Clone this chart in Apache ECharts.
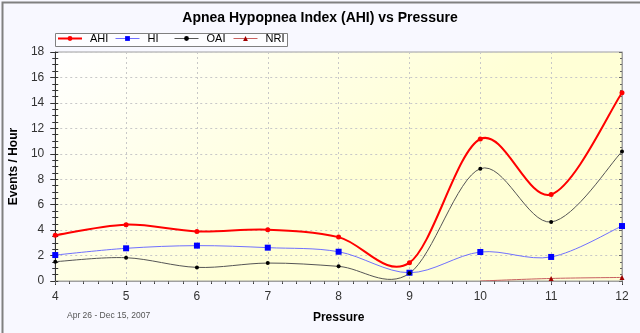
<!DOCTYPE html>
<html>
<head>
<meta charset="utf-8">
<style>
  html, body { margin: 0; padding: 0; background: #f8f8ff; }
  #chart { width: 640px; height: 333px; }
</style>
<script src="https://cdn.jsdelivr.net/npm/echarts@6/dist/echarts.min.js"></script>
</head>
<body>
<div id="chart"></div>
<script>
// Pressure settings (x) and event rates per hour for each index
const pressure = [4, 5, 6, 7, 8, 9, 10, 11, 12];
const ahi = [3.6, 4.43, 3.9, 4.03, 3.45, 1.44, 11.16, 6.8, 14.8];
const hi  = [2.04, 2.57, 2.78, 2.62, 2.3, 0.65, 2.28, 1.89, 4.32];
const oai = [1.52, 1.83, 1.07, 1.41, 1.15, 0.6, 8.83, 4.64, 10.17];
const nri = [null, null, null, null, null, null, 0, 0.2, 0.28];
const yTicks = [0, 2, 4, 6, 8, 10, 12, 14, 16, 18];
const seriesNames = ['AHI', 'HI', 'OAI', 'NRI'];

const pairs = (ys) => pressure.map((x, i) => [x, ys[i]]);
const font = 'Arial, "Liberation Sans", sans-serif';

const chart = echarts.init(document.getElementById('chart'), null, { renderer: 'canvas' });

// Markers for each index (the curve itself is drawn by the spline series below)
const markerSeries = (name, data, symbol, symColor, size, z) => ({
  name, type: 'line', data: pairs(data), z,
  symbol, symbolSize: (v) => (v[1] > 0 ? size : 0),
  showSymbol: true,
  lineStyle: { opacity: 0 },
  itemStyle: { color: symColor, borderWidth: 0 },
  animation: false
});

// Catmull-Rom curve through the points, converted to pixel space by the axes
const splineSeries = (name, ys, color, width, z) => ({
  name, type: 'custom', z, clip: true,
  data: pairs(ys).map((p, i) => [p[0], p[1] == null ? 0 : p[1], i]),
  encode: { x: 0, y: 1 },
  renderItem: (params, api) => {
    const i = params.dataIndex;
    const n = ys.length;
    if (i >= n - 1 || ys[i] == null || ys[i + 1] == null) return null;
    const k0 = (i > 0 && ys[i - 1] != null) ? i - 1 : i;
    const k3 = (i + 2 < n && ys[i + 2] != null) ? i + 2 : i + 1;
    const P = (k) => api.coord([pressure[k], ys[k]]);
    const p0 = P(k0), p1 = P(i), p2 = P(i + 1), p3 = P(k3);
    return {
      type: 'bezierCurve',
      shape: {
        x1: p1[0], y1: p1[1], x2: p2[0], y2: p2[1],
        cpx1: p1[0] + (p2[0] - p0[0]) / 6, cpy1: p1[1] + (p2[1] - p0[1]) / 6,
        cpx2: p2[0] - (p3[0] - p1[0]) / 6, cpy2: p2[1] - (p3[1] - p1[1]) / 6
      },
      style: { stroke: color, lineWidth: width, fill: null }
    };
  },
  animation: false
});

// One legend entry per slot so the entries sit in evenly spaced columns
const legendColors = ['#ff0000', '#7070ff', '#555555', '#c86060'];
const legendWidths = [2, 1, 1, 1];
const legendSlots = [57, 115, 174, 233];
const legends = seriesNames.map((name, i) => ({
  left: legendSlots[i], top: 33,
  itemWidth: 24, itemHeight: 6, itemGap: 0, padding: 0,
  textStyle: { fontFamily: font, fontSize: 11, color: '#000', padding: [1, 0, 0, 3] },
  data: [{ name, lineStyle: { color: legendColors[i], width: legendWidths[i], opacity: 1 } }]
}));

chart.setOption({
  backgroundColor: '#f8f8ff',
  animation: false,
  title: {
    text: 'Apnea Hypopnea Index (AHI) vs Pressure',
    left: 'center', top: 6,
    textStyle: { fontFamily: font, fontSize: 14, fontWeight: 'bold', color: '#000' }
  },
  legend: legends,
  grid: {
    left: 55, right: 18, top: 52, bottom: 52,
    show: true,
    borderColor: '#a0a0a0', borderWidth: 1,
    backgroundColor: {
      type: 'linear', x: 0, y: 0, x2: 0.3, y2: 1,
      colorStops: [{ offset: 0, color: '#ffffff' }, { offset: 1, color: '#ffffd6' }]
    }
  },
  xAxis: [{
    type: 'value', min: pressure[0], max: pressure[pressure.length - 1], interval: 1,
    name: 'Pressure', nameLocation: 'middle', nameGap: 31,
    nameTextStyle: { fontFamily: font, fontSize: 12, fontWeight: 'bold', color: '#000' },
    axisLine: { onZero: false, lineStyle: { color: '#e08080', width: 1 } },
    axisTick: { length: 4, lineStyle: { color: '#333' } },
    minorTick: { show: true, splitNumber: 5, length: 3, lineStyle: { color: '#333' } },
    axisLabel: { margin: 10, fontFamily: font, fontSize: 12, color: '#333' },
    splitLine: { show: true, lineStyle: { color: '#c8c8c8', type: [2, 3] } }
  }, {
    type: 'value', position: 'top', min: pressure[0], max: pressure[pressure.length - 1], interval: 1,
    axisLine: { show: true, lineStyle: { color: '#a0a0a0' } },
    axisTick: { inside: true, length: 3, lineStyle: { color: '#666' } },
    minorTick: { show: true, splitNumber: 5, length: 2, lineStyle: { color: '#666' } },
    axisLabel: { show: false }, splitLine: { show: false }
  }],
  yAxis: [{
    type: 'value', min: yTicks[0], max: yTicks[yTicks.length - 1], interval: 2,
    name: 'Events / Hour', nameLocation: 'middle', nameGap: 32,
    nameTextStyle: { fontFamily: font, fontSize: 12, fontWeight: 'bold', color: '#000' },
    axisLine: { show: true, lineStyle: { color: '#333' } },
    axisTick: { length: 5, lineStyle: { color: '#333' } },
    minorTick: { show: true, splitNumber: 4, length: 3, lineStyle: { color: '#333' } },
    axisLabel: { margin: 11, fontFamily: font, fontSize: 12, color: '#333' },
    splitLine: { show: true, lineStyle: { color: '#c8c8c8', type: [2, 3] } }
  }, {
    type: 'value', position: 'left', min: yTicks[0], max: yTicks[yTicks.length - 1], interval: 2,
    axisLine: { show: false },
    axisTick: { inside: true, length: 3, lineStyle: { color: '#333' } },
    minorTick: { show: true, splitNumber: 4, length: 3, lineStyle: { color: '#333' } },
    axisLabel: { show: false }, splitLine: { show: false }
  }, {
    type: 'value', position: 'right', min: yTicks[0], max: yTicks[yTicks.length - 1], interval: 2,
    axisLine: { show: true, lineStyle: { color: '#a0a0a0' } },
    axisTick: { inside: true, length: 3, lineStyle: { color: '#666' } },
    minorTick: { show: true, splitNumber: 4, length: 2, lineStyle: { color: '#666' } },
    axisLabel: { show: false }, splitLine: { show: false }
  }],
  series: [
    markerSeries('AHI', ahi, 'circle', '#ff0000', 5, 6),
    markerSeries('HI', hi, 'rect', '#0000ff', 6, 6),
    markerSeries('OAI', oai, 'circle', '#000000', 4, 6),
    markerSeries('NRI', nri, 'triangle', '#a00000', 5, 6),
    splineSeries('AHI', ahi, '#ff0000', 2, 4),
    splineSeries('HI', hi, '#7070ff', 1, 3),
    splineSeries('OAI', oai, '#555555', 1, 3),
    splineSeries('NRI', nri, '#c86060', 1, 3)
  ],
  graphic: [{
    // frame around the legend entries
    type: 'rect', left: 55, top: 33, z: -1, silent: true,
    shape: { width: 232, height: 13 },
    style: { fill: '#fdfdff', stroke: '#808080', lineWidth: 1 }
  }, {
    type: 'text', left: 67, top: 311,
    style: { text: 'Apr 26 - Dec 15, 2007', fontFamily: font, fontSize: 8.5, fill: '#555' }
  }, {
    type: 'rect', left: 0, top: 0, silent: true,
    shape: { width: 639, height: 332 },
    style: { fill: 'none', stroke: '#808080', lineWidth: 2 }
  }]
});
</script>
</body>
</html>
